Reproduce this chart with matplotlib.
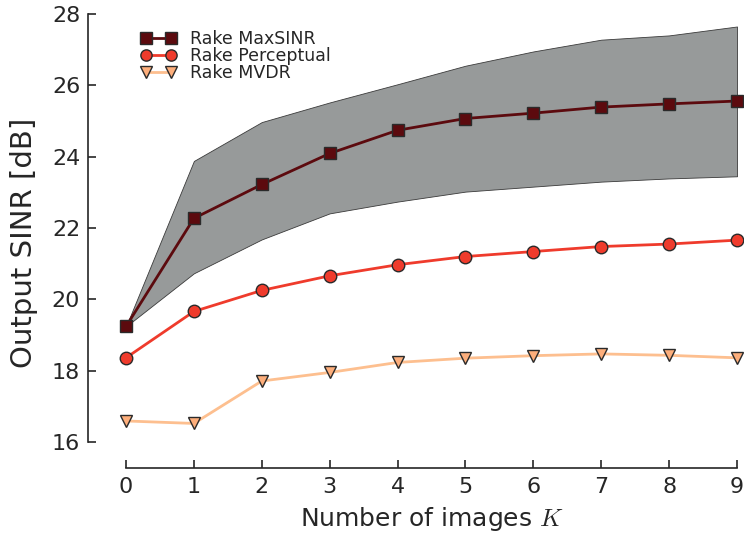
import numpy as np
import matplotlib.pyplot as plt

K = [0, 1, 2, 3, 4, 5, 6, 7, 8, 9]
maxsinr = [19.24, 22.27, 23.22, 24.09, 24.74, 25.07, 25.22, 25.39, 25.48, 25.56]
maxsinr_hi = [19.24, 23.88, 24.97, 25.52, 26.03, 26.55, 26.95, 27.28, 27.40, 27.65]
maxsinr_lo = [19.24, 20.73, 21.68, 22.41, 22.74, 23.02, 23.16, 23.30, 23.39, 23.45]
perceptual = [18.36, 19.66, 20.25, 20.66, 20.97, 21.20, 21.34, 21.48, 21.55, 21.66]
mvdr = [16.59, 16.52, 17.71, 17.95, 18.23, 18.35, 18.42, 18.47, 18.43, 18.36]

c_max = '#5c0a0e'
c_per = '#ef3b2c'
c_mvdr = '#fdbf8f'
c_mvdr_m = '#fdae7b'

plt.rcParams.update({'font.family': 'DejaVu Sans', 'mathtext.fontset': 'cm',
                     'text.color': '#262626', 'axes.labelcolor': '#262626',
                     'xtick.color': '#262626', 'ytick.color': '#262626'})

fig = plt.figure(figsize=(7.44, 5.43), dpi=100)
ax = fig.add_axes([126 / 744, 1 - 442 / 543, (737 - 126) / 744, (442 - 14) / 543])

ax.fill_between(K, maxsinr_lo, maxsinr_hi, facecolor='#979a9a', edgecolor='#3a3a3a',
                linewidth=0.6, zorder=1)
ax.plot(K, maxsinr, '-s', color=c_max, markerfacecolor=c_max, markeredgecolor='#2a2a2a',
        markeredgewidth=1.0, markersize=9, linewidth=2, label='Rake MaxSINR',
        clip_on=False, zorder=4)
ax.plot(K, perceptual, '-o', color=c_per, markerfacecolor=c_per, markeredgecolor='#2a2a2a',
        markeredgewidth=1.0, markersize=9, linewidth=2, label='Rake Perceptual',
        clip_on=False, zorder=3)
ax.plot(K, mvdr, '-v', color=c_mvdr, markerfacecolor=c_mvdr_m, markeredgecolor='#2a2a2a',
        markeredgewidth=1.0, markersize=9, linewidth=2, label='Rake MVDR',
        clip_on=False, zorder=3)

ax.set_xlim(0, 9)
ax.set_ylim(16, 28)
ax.set_xticks(K)
ax.set_yticks([16, 18, 20, 22, 24, 26, 28])

for s in ['top', 'right']:
    ax.spines[s].set_visible(False)
ax.spines['left'].set_position(('outward', 27))
ax.spines['bottom'].set_position(('outward', 19))
ax.spines['left'].set_bounds(16, 28)
ax.spines['bottom'].set_bounds(0, 9)
for s in ['left', 'bottom']:
    ax.spines[s].set_color('#262626')
    ax.spines[s].set_linewidth(1.2)

ax.tick_params(direction='in', length=6, width=1.2, labelsize=16, pad=6)
ax.set_xlabel('Number of images $K$', fontsize=18, labelpad=6)
ax.set_ylabel('Output SINR [dB]', fontsize=21)
ax.yaxis.set_label_coords(-0.144, 0.465)

ax.legend(loc='upper left', bbox_to_anchor=(0.005, 0.99), frameon=False, fontsize=12.5,
          numpoints=2, handlelength=2.0, handletextpad=0.8, labelspacing=-0.06,
          borderaxespad=0.3, markerscale=0.9)

fig.savefig('out.png', dpi=100)
